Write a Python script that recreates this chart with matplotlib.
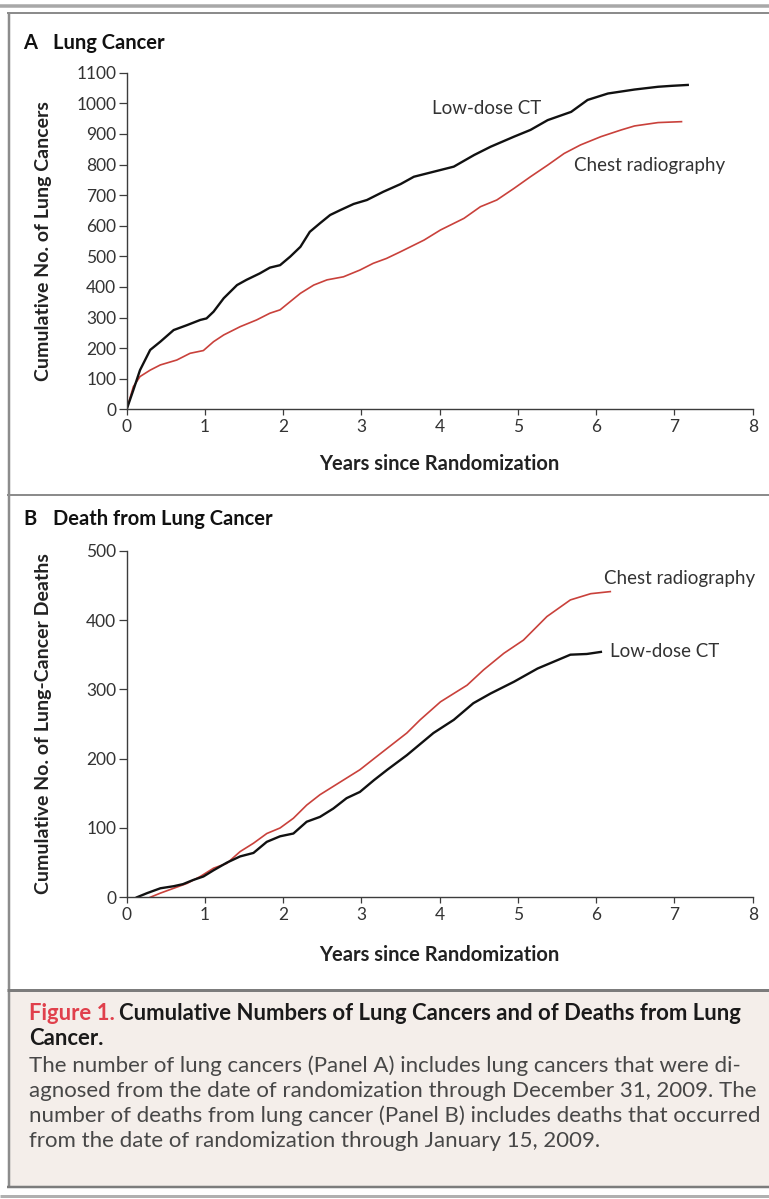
import numpy as np
import matplotlib.pyplot as plt
from matplotlib.lines import Line2D
from matplotlib.patches import Rectangle

plt.rcParams['font.family'] = ['Lato', 'DejaVu Sans']

# Panel A: cumulative number of lung cancers
a_ct_years = [0, 0.085, 0.17, 0.30, 0.43, 0.60, 0.77, 0.94, 1.02, 1.11, 1.24, 1.41, 1.53, 1.70,
              1.83, 1.96, 2.09, 2.22, 2.34, 2.47, 2.60, 2.73, 2.90, 3.07, 3.28, 3.50, 3.67, 4.01,
              4.18, 4.44, 4.65, 4.95, 5.16, 5.38, 5.68, 5.89, 6.15, 6.49, 6.79, 6.96, 7.17]
a_ct_counts = [0, 63, 128, 194, 221, 259, 275, 292, 297, 319, 363, 406, 423, 444,
               463, 471, 499, 531, 580, 608, 635, 651, 671, 684, 711, 736, 760, 782,
               793, 831, 858, 891, 913, 945, 972, 1011, 1032, 1045, 1054, 1057, 1060]
a_xr_years = [0, 0.085, 0.17, 0.30, 0.43, 0.64, 0.81, 0.98, 1.11, 1.24, 1.45, 1.66, 1.83, 1.96,
              2.09, 2.22, 2.39, 2.56, 2.77, 2.98, 3.15, 3.32, 3.50, 3.80, 4.01, 4.31, 4.52, 4.73,
              4.95, 5.16, 5.38, 5.59, 5.80, 6.06, 6.32, 6.49, 6.79, 7.09]
a_xr_counts = [0, 74, 107, 128, 145, 161, 183, 192, 221, 243, 270, 292, 314, 325,
               352, 379, 406, 423, 433, 455, 477, 493, 515, 553, 586, 624, 662, 684,
               722, 760, 798, 836, 864, 891, 913, 926, 937, 940]

# Panel B: cumulative number of lung-cancer deaths
b_ct_years = [0.13, 0.26, 0.43, 0.60, 0.72, 0.85, 0.98, 1.11, 1.28, 1.45, 1.62, 1.79, 1.96, 2.13,
              2.30, 2.47, 2.64, 2.81, 2.98, 3.16, 3.33, 3.58, 3.92, 4.18, 4.43, 4.65, 4.95, 5.25,
              5.46, 5.67, 5.88, 6.06]
b_ct_deaths = [0, 6, 13, 16, 19, 25, 30, 39, 50, 59, 64, 80, 88, 92,
               109, 116, 128, 143, 152, 169, 184, 205, 237, 256, 280, 294, 311, 330,
               340, 350, 351, 354]
b_xr_years = [0.30, 0.43, 0.60, 0.77, 0.94, 1.11, 1.28, 1.45, 1.62, 1.79, 1.96, 2.13, 2.30, 2.47,
              2.64, 2.81, 2.98, 3.16, 3.33, 3.58, 3.75, 4.01, 4.35, 4.56, 4.82, 5.07, 5.37, 5.67,
              5.93, 6.18]
b_xr_deaths = [0, 6, 13, 20, 30, 42, 49, 66, 78, 92, 100, 114, 133, 148,
               160, 172, 184, 200, 215, 237, 256, 282, 306, 328, 352, 371, 405, 429,
               438, 441]

x_ticks = [0, 1, 2, 3, 4, 5, 6, 7, 8]
a_y_ticks = list(range(0, 1101, 100))
b_y_ticks = [0, 100, 200, 300, 400, 500]

W, H = 769, 1199
RED = '#c9413b'
AXC = '#3c3c3c'

fig = plt.figure(figsize=(W / 100, H / 100), dpi=100)
fig.patch.set_facecolor('white')


def fx(x):
    return x / W


def fy(y):
    return 1 - y / H


def hline(y, x0, x1, lw, color):
    fig.add_artist(Line2D([fx(x0), fx(x1)], [fy(y), fy(y)], lw=lw * 0.72, color=color,
                          transform=fig.transFigure, solid_capstyle='butt'))


def vline(x, y0, y1, lw, color):
    fig.add_artist(Line2D([fx(x), fx(x)], [fy(y0), fy(y1)], lw=lw * 0.72, color=color,
                          transform=fig.transFigure, solid_capstyle='butt'))


# caption background
fig.add_artist(Rectangle((fx(9), fy(1187)), fx(W) - fx(9), fy(991) - fy(1187),
                         transform=fig.transFigure, facecolor='#f4eeea', edgecolor='none', zorder=0))

# frame lines
hline(5.5, 0, W, 3.5, '#a8a8a8')
hline(13, 7, W, 2, '#8c8c8c')
vline(8.5, 12, 1188, 2.5, '#8c8c8c')
hline(495, 7, W, 2, '#8c8c8c')
hline(990, 7, W, 3, '#7c7c7c')
hline(1187, 7, W, 2.5, '#7c7c7c')
hline(1196, 0, W, 3, '#b0b0b0')


def style_axes(ax, yticks, ylim, ylabel, bottom_px, height_px):
    ax.set_xlim(0, 8)
    ax.set_ylim(*ylim)
    ax.set_xticks(x_ticks)
    ax.set_yticks(yticks)
    for s in ['top', 'right']:
        ax.spines[s].set_visible(False)
    for s in ['left', 'bottom']:
        ax.spines[s].set_color(AXC)
        ax.spines[s].set_linewidth(1.0)
    ax.tick_params(direction='out', width=0.9, color=AXC, labelcolor='#333333',
                   labelsize=12.5)
    ax.tick_params(axis='y', length=6, pad=1.5)
    ax.tick_params(axis='x', length=4.5, pad=2.5)
    ax.set_ylabel(ylabel, fontsize=14, fontweight='bold', color='#222222')
    ax.yaxis.label.set_verticalalignment('center')
    ax.yaxis.set_label_coords((44 - 126.7) / 626.0, 0.5)
    ax.set_xlabel('Years since Randomization', fontsize=14.5, fontweight='bold', color='#222222')
    ax.xaxis.label.set_verticalalignment('center')
    ax.xaxis.set_label_coords(0.5, -(bottom_px) / height_px)
    ax.patch.set_alpha(0)


# Panel A
axA = fig.add_axes([fx(126.7), fy(409.3), fx(752.7) - fx(126.7), fy(72.7) - fy(409.3)])
axA.plot(a_xr_years, a_xr_counts, color=RED, lw=1.2, solid_joinstyle='round')
axA.plot(a_ct_years, a_ct_counts, color='#111111', lw=1.7, solid_joinstyle='round')
style_axes(axA, a_y_ticks, (0, 1100), 'Cumulative No. of Lung Cancers', 464 - 409.3, 336.6)
axA.text(3.90, 983, 'Low-dose CT', fontsize=13.5, color='#333333', va='center', ha='left')
axA.text(5.71, 797, 'Chest radiography', fontsize=13.5, color='#333333', va='center', ha='left')
fig.text(fx(23), fy(43), 'A', fontsize=14.5, fontweight='bold', color='#111111', va='center')
fig.text(fx(53), fy(43), 'Lung Cancer', fontsize=14.5, fontweight='bold', color='#111111',
         va='center')

# Panel B
axB = fig.add_axes([fx(126.7), fy(897.3), fx(752.7) - fx(126.7), fy(550.7) - fy(897.3)])
axB.plot(b_xr_years, b_xr_deaths, color=RED, lw=1.2, solid_joinstyle='round')
axB.plot(b_ct_years, b_ct_deaths, color='#111111', lw=1.7, solid_joinstyle='round')
style_axes(axB, b_y_ticks, (0, 500), 'Cumulative No. of Lung-Cancer Deaths', 955 - 897.3, 346.6)
axB.text(6.18, 354, 'Low-dose CT', fontsize=13.5, color='#333333', va='center', ha='left')
axB.text(6.10, 460, 'Chest radiography', fontsize=13.5, color='#333333', va='center', ha='left')
fig.text(fx(23), fy(519), 'B', fontsize=14.5, fontweight='bold', color='#111111', va='center')
fig.text(fx(53), fy(519), 'Death from Lung Cancer', fontsize=14.5, fontweight='bold',
         color='#111111', va='center')

# caption
head_size = 15.9
body_size = 16.0
t1 = fig.text(fx(29), fy(1020), 'Figure 1.', fontsize=head_size, color='#e0404c',
              fontweight='bold', va='baseline')
fig.canvas.draw()
bb = t1.get_window_extent()
fig.text(bb.x1 / W + fx(4), fy(1020), 'Cumulative Numbers of Lung Cancers and of Deaths from Lung',
         fontsize=head_size, color='#1a1a1a', fontweight='bold', va='baseline')
fig.text(fx(29), fy(1045), 'Cancer.', fontsize=head_size, color='#1a1a1a', fontweight='bold',
         va='baseline')
body = ['The number of lung cancers (Panel A) includes lung cancers that were di-',
        'agnosed from the date of randomization through December 31, 2009. The',
        'number of deaths from lung cancer (Panel B) includes deaths that occurred',
        'from the date of randomization through January 15, 2009.']
for i, line in enumerate(body):
    fig.text(fx(29), fy(1072 + 25 * i), line, fontsize=body_size, color='#474747', va='baseline')

fig.savefig('out.png', dpi=100)
